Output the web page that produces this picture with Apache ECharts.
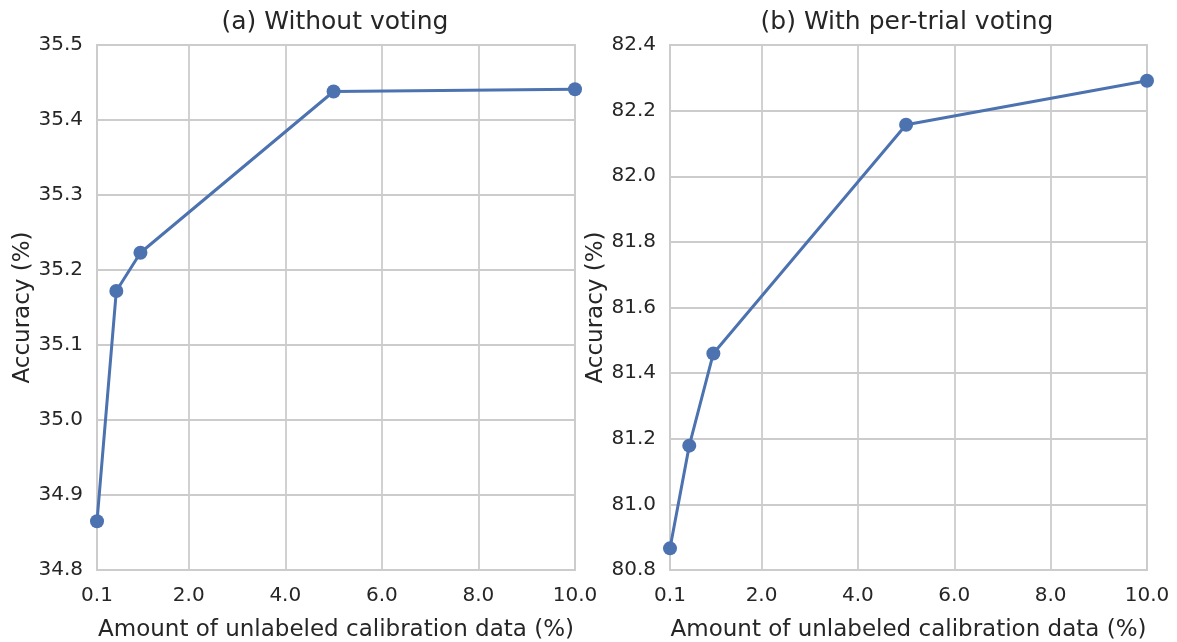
<!DOCTYPE html>
<html>
<head>
<meta charset="utf-8">
<script src="https://cdn.jsdelivr.net/npm/echarts@6/dist/echarts.min.js"></script>
<style>html,body{margin:0;padding:0;background:#fff}#c{width:1177px;height:642px}</style>
</head>
<body>
<div id="c"></div>
<script>
// Data
const xValues = [0.1, 0.5, 1.0, 5.0, 10.0];
const accWithoutVoting = [34.865, 35.172, 35.223, 35.438, 35.441];
const accPerTrialVoting = [80.866, 81.179, 81.460, 82.157, 82.291];
const xTicks = [0.1, 2, 4, 6, 8, 10];
const titles = ['(a) Without voting', '(b) With per-trial voting'];
const xAxisName = 'Amount of unlabeled calibration data (%)';
const yAxisName = 'Accuracy (%)';
const yRanges = [{min: 34.8, max: 35.5, interval: 0.1}, {min: 80.8, max: 82.4, interval: 0.2}];

const FONT = 'DejaVu Sans';
const TXT = '#262626';
const GRID = '#cccccc';
const BLUE = '#4c72b0';

const chart = echarts.init(document.getElementById('c'), null, {renderer: 'canvas'});

const grids = [
  {left: 97, right: 602, top: 45, bottom: 72},
  {left: 670, right: 30, top: 45, bottom: 72}
];

function xAxis(i) {
  return {
    gridIndex: i, type: 'value', min: 0.1, max: 10,
    name: xAxisName, nameLocation: 'middle', nameGap: 49,
    nameTextStyle: {fontFamily: FONT, fontSize: 23, color: TXT},
    axisLine: {show: true, lineStyle: {color: GRID, width: 2}},
    axisTick: {show: false, customValues: xTicks},
    axisLabel: {customValues: xTicks, fontFamily: FONT, fontSize: 20, color: TXT, margin: 16,
      formatter: v => (Math.abs(v - 0.1) < 1e-9 ? '0.1' : v.toFixed(1))},
    splitLine: {show: true, lineStyle: {color: GRID, width: 1.8}}
  };
}
function yAxis(i) {
  return {
    gridIndex: i, type: 'value', min: yRanges[i].min, max: yRanges[i].max, interval: yRanges[i].interval,
    name: yAxisName, nameLocation: 'middle', nameGap: 62, nameRotate: 90,
    nameTextStyle: {fontFamily: FONT, fontSize: 23, color: TXT},
    axisLine: {show: true, lineStyle: {color: GRID, width: 2}},
    axisTick: {show: false},
    axisLabel: {fontFamily: FONT, fontSize: 20, color: TXT, margin: 14, formatter: v => v.toFixed(1)},
    splitLine: {show: true, lineStyle: {color: GRID, width: 1.8}}
  };
}
function series(i, data) {
  return {
    type: 'line', xAxisIndex: i, yAxisIndex: i,
    data: xValues.map((x, k) => [x, data[k]]),
    symbol: 'circle', symbolSize: 14, showSymbol: true,
    lineStyle: {color: BLUE, width: 3}, itemStyle: {color: BLUE},
    clip: true, animation: false, z: 3
  };
}

chart.setOption({
  animation: false,
  backgroundColor: '#fff',
  title: [
    {text: titles[0], left: 335, top: 10, textAlign: 'center', padding: 0,
     textStyle: {fontFamily: FONT, fontSize: 25, fontWeight: 'normal', color: TXT}},
    {text: titles[1], left: 907, top: 10, textAlign: 'center', padding: 0,
     textStyle: {fontFamily: FONT, fontSize: 25, fontWeight: 'normal', color: TXT}}
  ],
  grid: grids.map(g => Object.assign({show: true, borderColor: GRID, borderWidth: 2, backgroundColor: '#fff',
    containLabel: false, outerBoundsMode: 'none'}, g)),
  xAxis: [xAxis(0), xAxis(1)],
  yAxis: [yAxis(0), yAxis(1)],
  series: [series(0, accWithoutVoting), series(1, accPerTrialVoting)]
});
</script>
</body>
</html>
